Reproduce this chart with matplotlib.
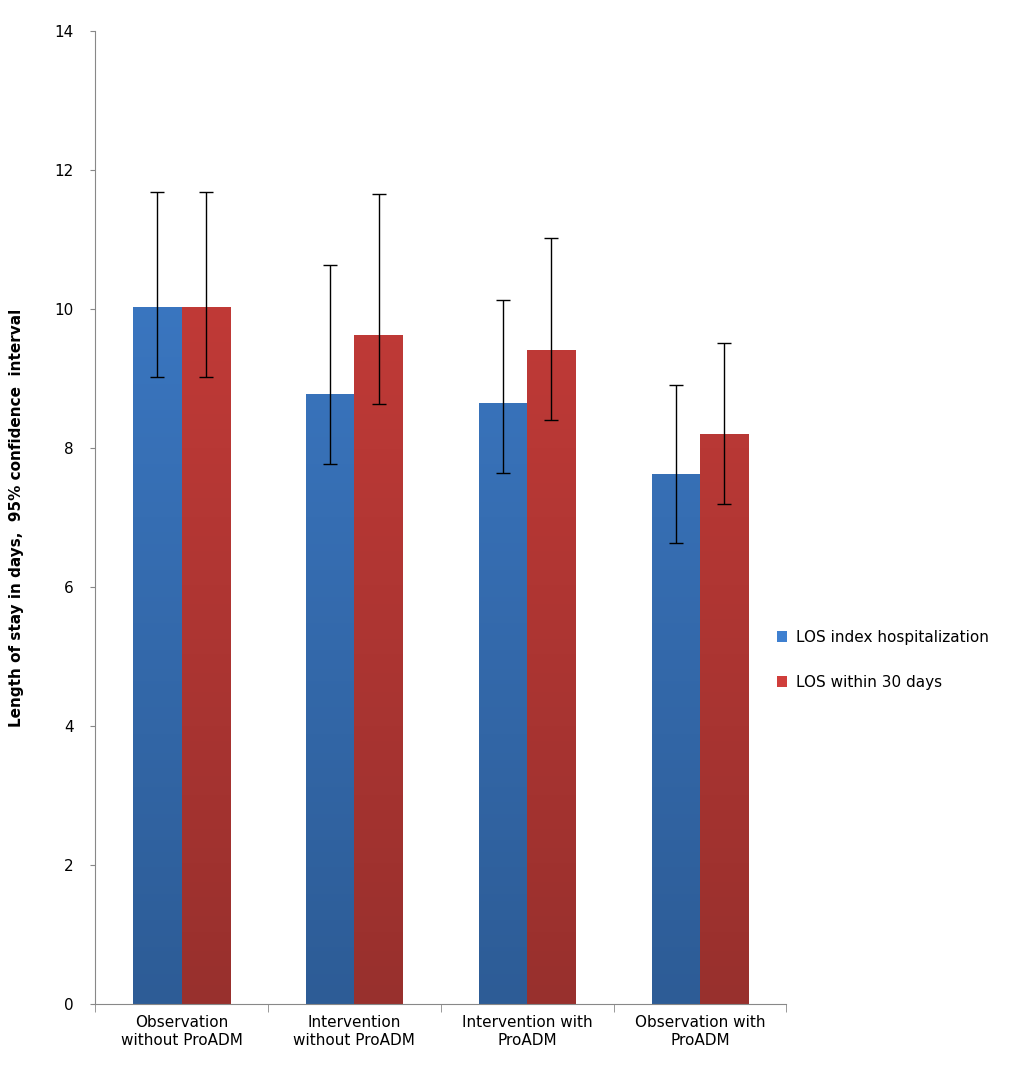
import numpy as np
import matplotlib.pyplot as plt
import matplotlib.colors as mcolors

categories = ['Observation\nwithout ProADM', 'Intervention\nwithout ProADM',
              'Intervention with\nProADM', 'Observation with\nProADM']
los_index = [10.03, 8.78, 8.65, 7.63]
los_index_hi = [11.68, 10.63, 10.13, 8.91]
los_index_lo = [9.03, 7.78, 7.65, 6.64]
los_30 = [10.03, 9.63, 9.41, 8.20]
los_30_hi = [11.68, 11.65, 11.02, 9.51]
los_30_lo = [9.03, 8.63, 8.41, 7.20]

fig = plt.figure(figsize=(10.24, 10.73), dpi=100)
ax = fig.add_axes([0.093, 0.064, 0.675, 0.907])

x = np.arange(len(categories))
w = 0.28

def grad_bars(xs, vals, top, bottom, label):
    bars = ax.bar(xs, vals, w, color=top, label=label, zorder=2)
    cmap = mcolors.LinearSegmentedColormap.from_list('g', [bottom, top])
    grad = np.linspace(0, 1, 256).reshape(-1, 1)
    for b in bars:
        bx = b.get_x()
        im = ax.imshow(grad, cmap=cmap, aspect='auto', origin='lower',
                       extent=[bx, bx + b.get_width(), 0, 14], zorder=2)
        im.set_clip_path(b)
    return bars

grad_bars(x - w / 2, los_index, '#3f80d0', '#2d5c96', 'LOS index hospitalization')
grad_bars(x + w / 2, los_30, '#d03e3b', '#98302d', 'LOS within 30 days')

for xs, v, hi, lo in [(x - w / 2, los_index, los_index_hi, los_index_lo),
                      (x + w / 2, los_30, los_30_hi, los_30_lo)]:
    v = np.array(v)
    err = [v - np.array(lo), np.array(hi) - v]
    ax.errorbar(xs, v, yerr=err, fmt='none', ecolor='black', elinewidth=1,
                capsize=5, zorder=3)

ax.set_xlim(-0.5, 3.5)
ax.set_ylim(0, 14)
ax.set_yticks(range(0, 15, 2))
ax.set_xticks(x)
ax.set_xticklabels(categories, fontsize=11)
ax.set_xticks(np.arange(-0.5, 4, 1), minor=True)
ax.tick_params(axis='x', which='major', length=0, pad=8)
ax.tick_params(axis='x', which='minor', length=6, color='#888888')
ax.tick_params(axis='y', labelsize=11, color='#888888', pad=12)
ax.spines['top'].set_visible(False)
ax.spines['right'].set_visible(False)
ax.spines['left'].set_color('#888888')
ax.spines['bottom'].set_color('#888888')
ax.set_ylabel('Length of stay in days,  95% confidence  interval',
              fontsize=11, fontweight='bold', labelpad=22)

fig.legend(loc='center left', bbox_to_anchor=(0.745, 0.385), frameon=False,
           fontsize=11, handlelength=0.7, handleheight=0.7, labelspacing=2.0,
           handletextpad=0.6)

fig.savefig('out.png')
